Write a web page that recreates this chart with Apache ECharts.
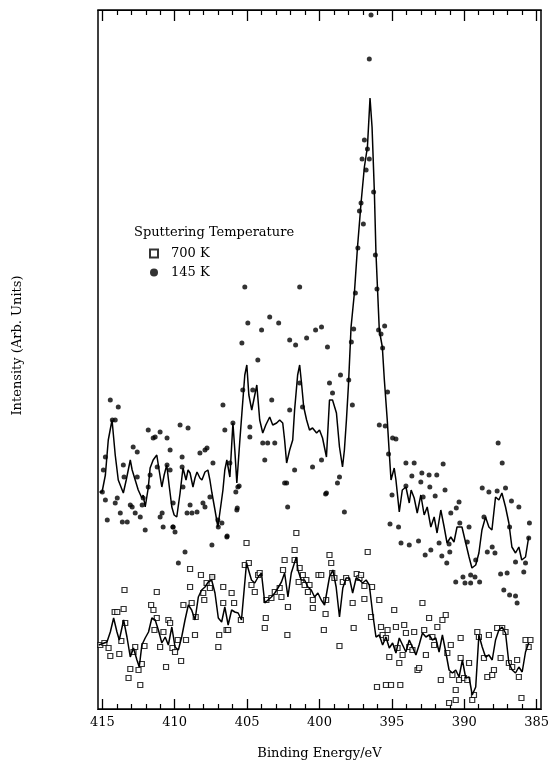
<!DOCTYPE html>
<html>
<head>
<meta charset="utf-8">
<script src="https://cdn.jsdelivr.net/npm/echarts@6/dist/echarts.min.js"></script>
</head>
<body style="margin:0">
<div id="chart" style="width:551px;height:761px"></div>
<script>
// Tick values (Binding Energy, eV)
const majorTicks = [385, 390, 395, 400, 405, 410, 415];
const minorTicks = [386,387,388,389,391,392,393,394,396,397,398,399,401,402,403,404,406,407,408,409,411,412,413,414];

// 145 K raw data points [eV, intensity arb.]
const sc145 = [
[414.45,30.9],[413.90,30.2],[414.31,28.9],[414.11,28.9],[414.79,25.2],[414.93,23.9],[415.00,21.7],[414.79,20.9],[414.66,18.9],[414.11,20.6],[413.97,21.1],[413.76,19.6],[413.62,18.7],[413.28,18.7],[413.55,24.4],[413.50,23.2],[413.07,20.4],[412.94,20.2],[412.87,26.2],[412.59,25.7],[412.59,23.2],[412.73,19.6],[412.38,19.2],[412.25,20.4],[412.18,21.1],[412.04,17.9],[411.83,27.9],[411.83,22.2],[411.70,23.4],[411.49,27.1],[411.35,27.2],[411.01,27.7],[411.21,24.2],[411.01,19.2],[410.87,19.6],[410.80,18.2],[410.53,27.1],[410.32,25.9],[410.53,24.4],[410.32,23.9],[410.11,18.2],[409.98,17.7],[410.11,20.6],[409.63,28.4],[409.08,28.1],[409.49,25.2],[409.49,24.2],[409.43,22.2],[409.15,19.6],[408.94,20.4],[408.81,19.6],[408.46,19.7],[408.26,25.6],[407.91,25.9],[407.77,26.1],[407.91,20.2],[408.05,20.6],[407.57,21.2],[407.36,24.6],[407.02,18.9],[406.74,18.6],[406.67,30.4],[406.54,27.9],[406.40,17.2],[406.19,24.6],[405.98,28.6],[405.71,19.9],[405.64,22.2],[409.29,15.7],[407.43,16.4],[405.30,31.9],[404.81,28.2],[404.81,27.2],[404.61,31.9],[403.92,26.6],[403.78,24.9],[403.58,26.6],[403.30,30.9],[403.09,26.6],[402.06,29.9],[402.27,22.6],[402.20,20.2],[401.72,23.9],[401.37,32.6],[401.17,30.2],[400.48,24.2],[399.86,24.9],[399.52,21.6],[399.10,31.6],[398.76,22.6],[398.62,23.2],[398.28,19.7],[397.73,30.4],[399.31,32.6],[402.41,22.6],[405.78,21.7],[405.55,22.3],[405.68,20.1],[399.58,21.5],[409.75,14.6],[407.38,13.2],[406.38,17.3],[406.99,18.2],[410.13,18.2],
[405.16,42.2],[401.37,42.2],[404.95,38.6],[404.00,37.9],[403.44,39.2],[402.82,38.6],[402.06,36.9],[400.89,37.1],[400.27,37.9],[399.86,38.2],[401.65,36.4],[399.45,36.2],[398.55,33.4],[405.36,36.6],[404.26,34.9],
[396.44,69.4],[396.56,65.0],[396.90,56.9],[396.69,56.0],[397.06,55.0],[396.56,55.0],[396.78,53.9],[397.13,50.6],[397.24,49.8],[396.97,48.5],[396.26,51.7],[397.35,46.1],[396.14,45.4],[397.52,41.6],[396.03,42.0],[397.64,38.0],[397.80,36.7],[395.92,37.9],[395.75,37.5],[395.50,38.3],[395.64,36.1],[397.98,32.9],
[395.30,31.7],[395.87,28.4],[395.46,28.3],[394.95,27.1],[394.72,27.0],[395.23,25.5],[394.03,24.6],[393.46,24.6],[391.46,24.5],[387.66,26.6],[387.38,24.6],[393.62,23.3],[392.93,23.6],[392.43,23.4],[391.90,23.4],[393.00,22.7],[394.03,22.3],[392.38,22.2],[391.33,21.9],[388.76,22.1],[388.30,21.7],[387.15,22.1],[387.73,21.8],[394.99,21.4],[392.01,21.3],[392.84,21.2],[390.36,20.7],[390.93,19.6],[390.55,20.1],[386.74,20.8],[386.23,20.2],[388.64,19.2],[395.13,18.5],[394.54,18.2],[390.31,18.6],[389.67,18.2],[386.87,18.2],[385.50,18.6],[394.37,16.6],[393.80,16.4],[393.16,16.8],[391.74,16.6],[391.05,16.5],[389.79,16.7],[392.31,15.9],[392.70,15.4],[391.55,15.3],[391.00,15.7],[388.41,15.7],[388.07,16.2],[387.88,15.6],[389.21,14.9],[391.21,14.6],[386.46,14.7],[385.89,13.7],[385.77,14.6],[385.55,17.1],[389.56,13.4],[390.09,13.2],[387.49,13.5],[387.04,13.6],[389.26,13.2],[390.59,12.7],[389.95,12.6],[389.56,12.6],[388.94,12.7],[387.27,11.9],[386.87,11.4],[386.46,11.3],[386.35,10.6]
];

// 145 K smoothed curve
const line145 = [
[415.20,21.7],[415.02,21.7],[414.79,23.4],[414.59,26.9],[414.33,28.9],[414.11,25.4],[413.90,22.9],[413.55,21.6],[413.35,22.9],[413.07,24.9],[412.94,23.9],[412.73,22.9],[412.52,21.9],[412.27,21.1],[412.18,21.4],[412.04,20.2],[411.83,22.1],[411.70,24.1],[411.49,24.9],[411.24,25.4],[411.08,23.9],[410.89,22.2],[410.73,23.4],[410.55,24.4],[410.39,22.4],[410.20,20.2],[410.04,19.4],[409.86,19.2],[409.63,21.6],[409.43,24.1],[409.22,22.9],[409.08,23.9],[408.94,23.6],[408.74,22.2],[408.60,23.1],[408.46,23.7],[408.26,23.1],[408.12,22.9],[407.91,23.7],[407.71,23.9],[407.57,22.9],[407.43,21.6],[407.22,19.9],[407.02,18.2],[406.81,20.4],[406.67,21.9],[406.54,23.9],[406.40,24.9],[406.19,23.2],[405.98,28.6],[405.85,25.9],[405.71,22.6],[405.50,26.9],[405.36,29.6],[405.16,33.4],[405.02,34.4],[404.88,31.4],[404.68,29.9],[404.54,30.9],[404.33,32.4],[404.13,28.9],[403.92,27.6],[403.71,28.4],[403.44,29.2],[403.23,28.4],[402.96,28.6],[402.75,28.9],[402.54,28.6],[402.41,26.9],[402.27,24.6],[402.06,25.9],[401.85,26.9],[401.72,29.9],[401.51,33.4],[401.37,34.4],[401.23,32.4],[401.09,30.2],[400.89,28.9],[400.69,27.9],[400.48,28.1],[400.20,27.6],[400.00,27.9],[399.79,27.1],[399.52,25.2],[399.31,30.9],[399.10,30.9],[398.83,29.6],[398.62,26.2],[398.41,24.2],[398.28,25.9],[398.14,28.9],[398.00,32.4],[397.82,38.2],[397.59,41.6],[397.38,46.1],[397.13,50.6],[396.90,54.2],[396.69,56.2],[396.51,61.1],[396.37,58.2],[396.21,51.7],[396.10,45.6],[395.98,41.6],[395.87,37.9],[395.66,36.2],[395.52,32.9],[395.32,28.9],[395.18,25.6],[395.06,22.9],[394.97,22.7],[394.84,24.1],[394.72,22.9],[394.49,19.7],[394.28,21.9],[394.03,22.2],[393.80,20.6],[393.67,21.9],[393.46,21.1],[393.25,19.6],[393.00,21.4],[392.77,19.4],[392.56,20.2],[392.31,18.2],[392.08,19.2],[391.88,17.6],[391.62,19.9],[391.39,18.2],[391.19,16.6],[390.93,17.2],[390.71,16.7],[390.50,18.2],[390.16,18.2],[389.90,16.6],[389.67,15.2],[389.47,14.1],[389.21,14.4],[388.99,15.6],[388.78,17.9],[388.53,19.2],[388.30,18.2],[388.09,17.9],[387.84,21.2],[387.61,20.9],[387.40,21.6],[387.15,20.2],[386.92,18.6],[386.71,16.2],[386.46,15.6],[386.23,16.2],[386.03,14.9],[385.77,15.2],[385.55,17.2]
];

// 700 K raw data points
const sc700 = [
[415.14,6.4],[414.86,6.6],[414.15,9.7],[413.97,9.7],[413.47,11.9],[413.53,10.0],[414.57,6.1],[414.45,5.3],[413.83,5.5],[413.69,6.8],[413.42,8.6],[413.19,3.1],[413.07,4.0],[412.85,5.7],[412.73,6.2],[412.50,3.9],[412.38,2.4],[412.27,4.5],[412.09,6.3],[411.63,10.4],[411.47,9.9],[411.40,7.9],[411.24,11.7],[411.24,9.1],[411.01,6.2],[410.78,7.7],[410.60,4.2],[410.44,8.9],[410.32,8.6],[410.16,6.1],[409.98,5.7],[409.79,6.9],[409.56,4.8],[409.40,10.4],[409.22,6.9],[408.94,12.2],[408.94,14.0],[408.83,10.6],[408.60,7.4],[408.55,9.2],[408.19,13.4],[408.03,11.6],[407.96,10.9],[407.80,12.6],[407.57,12.1],[407.41,13.2],[406.99,6.2],[406.93,7.4],[406.65,10.6],[406.65,12.2],[406.42,7.9],[406.31,7.9],[406.07,11.6],[405.90,10.6],[405.43,8.9],[405.16,14.4],[404.88,14.6],[404.70,12.4],[404.47,11.7],[404.24,13.4],[404.13,13.6],[403.78,8.1],[403.71,9.1],[403.67,10.9],[403.32,11.1],[403.09,11.7],[402.75,12.1],[402.63,11.2],[402.41,14.9],[402.22,7.4],[402.18,10.2],[401.72,14.9],[401.44,12.7],[401.15,13.4],[401.03,12.4],[400.80,11.7],[400.46,10.9],[400.46,10.1],[400.07,13.4],[399.70,7.9],[405.04,16.6],[401.60,17.6],[401.72,15.9],[399.31,15.4],[396.67,15.7],[402.52,13.9],
[401.37,14.1],[400.91,12.9],[400.69,12.4],[399.88,13.4],[399.58,9.5],[399.54,10.9],[399.19,14.6],[399.12,13.6],[398.97,13.1],[398.62,6.3],[398.39,12.7],[398.16,13.1],[397.71,10.6],[397.64,8.1],[397.43,13.5],[397.24,13.1],[397.13,13.4],[396.90,12.3],[396.90,11.0],[396.37,12.2],[396.44,9.2],[396.03,2.2],[395.87,10.9],[395.75,8.2],[395.64,7.4],[395.41,7.1],[395.30,7.9],[395.18,5.2],[395.06,2.4],[395.41,2.4],[394.84,9.9],[394.72,8.2],[394.61,6.1],[394.49,4.6],[394.42,2.4],[394.26,5.4],[394.15,8.4],[394.03,7.6],[393.80,6.2],[393.58,5.9],[393.46,7.7],[393.23,3.9],[393.12,4.1],[392.89,10.6],[392.77,7.9],[392.65,5.4],[392.43,9.1],[392.20,7.2],[392.08,6.4],[391.86,8.2],[391.62,2.9],[391.51,8.9],[391.28,9.4],[391.17,5.6],[390.93,6.4],[390.82,3.4],[390.59,1.9],[390.59,0.9],[391.05,0.6],[390.25,7.1],[390.25,5.1],[390.36,2.9],[390.02,3.1],[389.79,2.9],[389.67,4.6],[389.45,0.9],[389.33,1.4],[389.10,7.7],[388.99,7.2],[388.64,5.1],[388.41,3.2],[388.30,7.4],[388.07,3.4],[387.95,3.9],[387.73,8.1],[387.49,5.1],[387.38,8.1],[387.15,7.7],[386.92,4.6],[386.69,4.2],[386.35,4.9],[386.23,3.2],[386.05,1.1],[385.77,6.9],[385.55,6.2],[385.43,6.9]
];

// 700 K smoothed curve
const line700 = [
[415.25,6.4],[414.68,6.7],[414.45,7.7],[414.22,9.1],[413.99,7.7],[413.83,6.9],[413.53,8.9],[413.30,7.2],[413.07,5.2],[412.85,6.1],[412.61,4.9],[412.45,4.2],[412.27,6.4],[412.04,7.1],[411.81,7.7],[411.58,9.1],[411.35,8.9],[411.13,7.9],[410.89,6.6],[410.66,7.2],[410.44,6.4],[410.20,8.2],[409.98,6.2],[409.75,5.9],[409.52,7.2],[409.29,8.9],[409.06,10.4],[408.83,9.9],[408.60,8.9],[408.37,11.2],[408.14,11.9],[407.91,12.2],[407.68,12.7],[407.45,12.9],[407.22,11.6],[406.99,9.1],[406.76,8.7],[406.54,10.2],[406.31,8.4],[406.07,9.9],[405.85,9.7],[405.62,9.6],[405.39,8.9],[405.04,14.6],[404.93,14.4],[404.70,12.9],[404.47,12.6],[404.24,13.2],[404.01,13.6],[403.78,10.6],[403.56,10.9],[403.32,11.2],[403.09,11.6],[402.87,12.1],[402.63,12.7],[402.41,13.6],[402.18,11.2],[401.95,13.6],[401.60,15.2],[401.49,13.9],[401.26,12.9],[401.03,12.9],[400.80,12.2],[400.57,11.9],[400.34,11.2],[400.11,11.6],[399.88,10.9],[399.65,10.4],[399.31,13.2],[399.08,13.9],[398.85,12.2],[398.62,9.2],[398.39,12.1],[398.16,13.1],[397.93,13.1],[397.71,11.6],[397.47,13.1],[397.24,12.9],[397.02,12.6],[396.78,12.9],[396.56,12.4],[396.33,9.6],[396.10,7.2],[395.87,7.4],[395.64,6.4],[395.41,7.2],[395.18,6.1],[394.95,6.6],[394.72,5.6],[394.49,7.1],[394.26,6.4],[394.03,5.7],[393.80,6.9],[393.58,6.2],[393.34,5.4],[393.12,6.4],[392.89,7.6],[392.65,7.2],[392.43,7.4],[392.20,6.9],[391.97,7.1],[391.74,5.7],[391.51,7.4],[391.28,5.7],[391.05,3.9],[390.82,3.6],[390.59,3.9],[390.36,3.2],[390.13,4.9],[389.90,3.1],[389.67,3.2],[389.45,1.4],[389.21,2.2],[388.99,7.4],[388.76,6.2],[388.53,5.2],[388.30,5.4],[388.07,4.9],[387.84,6.9],[387.61,7.9],[387.38,8.2],[387.15,7.6],[386.92,4.6],[386.69,3.9],[386.46,3.6],[386.23,4.2],[386.00,3.7],[385.77,5.7],[385.55,6.6]
];

const FONT = 'DejaVu Serif';
const chart = echarts.init(document.getElementById('chart'));
const b = {type: 'value', min: 384.7, max: 415.3, inverse: true};
chart.setOption({
  animation: false,
  backgroundColor: '#fff',
  title: {text: 'Sputtering Temperature', left: 129, top: 221,
    textStyle: {fontFamily: FONT, fontSize: 13, fontWeight: 'normal', color: '#000'}},
  legend: {
    data: ['700 K', '145 K'], orient: 'vertical', left: 144, top: 242, itemWidth: 8, itemHeight: 8, itemGap: 6,
    textStyle: {fontFamily: FONT, fontSize: 13, color: '#000', padding: [0, 0, 0, 8]}
  },
  grid: [
    // data grid (frame)
    {left: 98, right: 10, top: 10, bottom: 52, outerBoundsMode: 'none', show: true, borderColor: '#000', borderWidth: 1.5},
    // tick grid (same rectangle, carries only the inward tick marks)
    {left: 98, right: 10, top: 10, bottom: 52, outerBoundsMode: 'none'}
  ],
  xAxis: [
    Object.assign({}, b, {gridIndex: 0, position: 'bottom', splitLine: {show: false}, axisLine: {show: false},
      axisTick: {show: false},
      axisLabel: {customValues: majorTicks, fontFamily: FONT, fontSize: 13, color: '#000', margin: 7},
      name: 'Binding Energy/eV', nameLocation: 'middle', nameGap: 38,
      nameTextStyle: {fontFamily: FONT, fontSize: 13, color: '#000'}}),
    Object.assign({}, b, {gridIndex: 1, position: 'bottom', splitLine: {show: false}, axisLine: {show: true, lineStyle: {color: '#000'}},
      axisTick: {show: true, inside: true, length: 10, customValues: majorTicks, lineStyle: {color: '#000', width: 1.3}},
      axisLabel: {show: false}}),
    Object.assign({}, b, {gridIndex: 1, position: 'bottom', offset: 0, splitLine: {show: false}, axisLine: {show: true, lineStyle: {color: '#000'}},
      axisTick: {show: true, inside: true, length: 5, customValues: minorTicks, lineStyle: {color: '#000', width: 1.2}},
      axisLabel: {show: false}}),
    Object.assign({}, b, {gridIndex: 1, position: 'top', splitLine: {show: false}, axisLine: {show: true, lineStyle: {color: '#000'}},
      axisTick: {show: true, inside: true, length: 11, customValues: majorTicks, lineStyle: {color: '#000', width: 1.3}},
      axisLabel: {show: false}}),
    Object.assign({}, b, {gridIndex: 1, position: 'top', offset: 0, splitLine: {show: false}, axisLine: {show: true, lineStyle: {color: '#000'}},
      axisTick: {show: true, inside: true, length: 5, customValues: minorTicks, lineStyle: {color: '#000', width: 1.2}},
      axisLabel: {show: false}})
  ],
  yAxis: [
    {gridIndex: 0, type: 'value', min: 0, max: 69.9, axisLabel: {show: false}, splitLine: {show: false}, axisTick: {show: false},
      axisLine: {show: false},
      name: 'Intensity (Arb. Units)', nameLocation: 'middle', nameGap: 74,
      nameTextStyle: {fontFamily: FONT, fontSize: 13, color: '#000', padding: [0, 0, 0, 28]}},
    {gridIndex: 1, type: 'value', min: 0, max: 1, show: false}
  ],
  series: [
    {name: '145 K fit', type: 'line', xAxisIndex: 0, yAxisIndex: 0, data: line145, showSymbol: false, silent: true,
      lineStyle: {color: '#000', width: 1.5}},
    {name: '700 K fit', type: 'line', xAxisIndex: 0, yAxisIndex: 0, data: line700, showSymbol: false, silent: true,
      lineStyle: {color: '#000', width: 1.5}},
    {name: '145 K', type: 'scatter', xAxisIndex: 0, yAxisIndex: 0, data: sc145, symbol: 'circle', symbolSize: 5,
      itemStyle: {color: '#000'}},
    {name: '700 K', type: 'scatter', xAxisIndex: 0, yAxisIndex: 0, data: sc700, symbol: 'rect', symbolSize: 5,
      itemStyle: {color: '#fff', borderColor: '#000', borderWidth: 1.2}}
  ]
});
</script>
</body>
</html>
